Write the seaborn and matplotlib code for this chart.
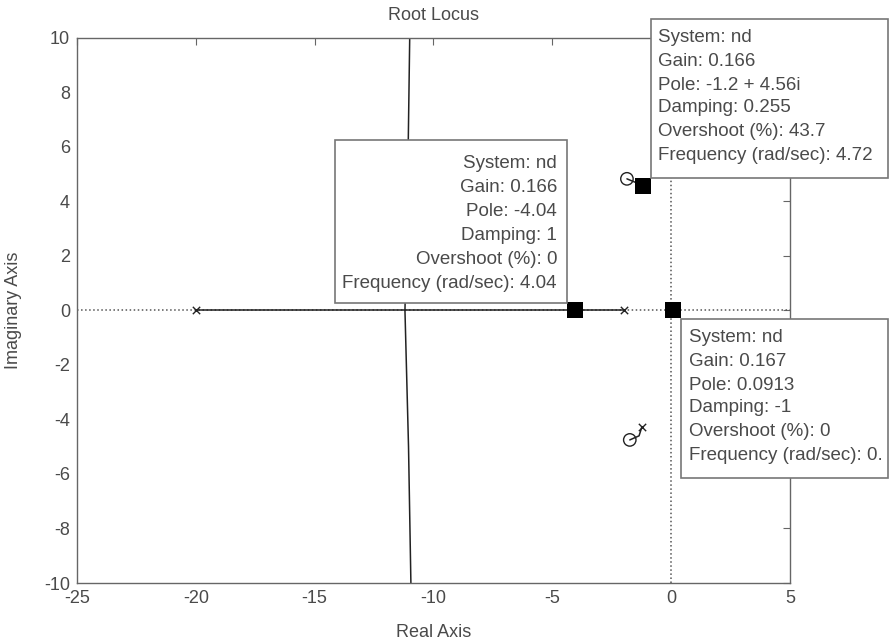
import numpy as np
import pandas as pd
import seaborn as sns
import matplotlib.pyplot as plt
from matplotlib.patches import Rectangle

# locus data
real_branch_re = [-20, -11.2, -2]
real_branch_im = [0, 0, 0]
up_branch_re = [-11.2, -11.08, -11.0]
up_branch_im = [0, 5, 10]
down_branch_re = [-11.2, -11.05, -10.95]
down_branch_im = [0, -5, -10]
cplx_up_re = [-1.2, -1.5, -1.86]
cplx_up_im = [4.5, 4.7, 4.83]
cplx_dn_re = [-1.23, -1.35, -1.74]
cplx_dn_im = [-4.27, -4.6, -4.75]

poles_re = [-20, -2, -1.2, -1.23]
poles_im = [0, 0, 4.5, -4.27]
zeros_re = [-1.86, -1.74]
zeros_im = [4.83, -4.75]

sel_re = [-4.04, 0.0913, -1.2]
sel_im = [0, 0, 4.56]

tip_left = ["System: nd", "Gain: 0.166", "Pole: -4.04", "Damping: 1",
            "Overshoot (%): 0", "Frequency (rad/sec): 4.04"]
tip_top = ["System: nd", "Gain: 0.166", "Pole: -1.2 + 4.56i", "Damping: 0.255",
           "Overshoot (%): 43.7", "Frequency (rad/sec): 4.72"]
tip_right = ["System: nd", "Gain: 0.167", "Pole: 0.0913", "Damping: -1",
             "Overshoot (%): 0", "Frequency (rad/sec): 0."]

sns.set_style("white")
plt.rcParams['font.family'] = ['Liberation Sans', 'DejaVu Sans']
plt.rcParams['axes.unicode_minus'] = False
txt_col = '#4a4a4a'
fs = 13

fig = plt.figure(figsize=(8.89, 6.42), dpi=100)
ax = fig.add_axes([0.0866, 0.0919, 0.802, 0.849])

# dotted axis lines
ax.axhline(0, color='#555555', ls=':', lw=1.1, zorder=1)
ax.axvline(0, color='#555555', ls=':', lw=1.1, zorder=1)

for xs, ys in [(real_branch_re, real_branch_im), (up_branch_re, up_branch_im),
               (down_branch_re, down_branch_im), (cplx_up_re, cplx_up_im),
               (cplx_dn_re, cplx_dn_im)]:
    d = pd.DataFrame({'re': xs, 'im': ys})
    sns.lineplot(data=d, x='re', y='im', sort=False, color='#222222', lw=1.1, ax=ax, zorder=2)

sns.scatterplot(x=poles_re, y=poles_im, marker='x', s=28, color='#222222', linewidth=1.0, ax=ax, zorder=3)
sns.scatterplot(x=zeros_re, y=zeros_im, marker='o', s=80, facecolor='none', edgecolor='#222222',
                linewidth=1.0, ax=ax, zorder=3)
sns.scatterplot(x=sel_re, y=sel_im, marker='s', s=135, color='black', linewidth=0, ax=ax, zorder=4)

ax.set_xlim(-25, 5)
ax.set_ylim(-10, 10)
ax.set_xticks(np.arange(-25, 6, 5))
ax.set_yticks(np.arange(-10, 11, 2))
ax.tick_params(direction='in', length=5, top=True, right=True, labelsize=fs,
               colors='#666666', labelcolor=txt_col, pad=5)
for s in ax.spines.values():
    s.set_color('#666666')
    s.set_linewidth(1.0)
ax.set_title("Root Locus", fontsize=fs, color=txt_col, pad=13)
ax.set_xlabel("Real Axis", fontsize=fs, color=txt_col, labelpad=12)
ax.set_ylabel("Imaginary Axis", fontsize=fs, color=txt_col, labelpad=16)

W, H = 889.0, 642.0


def data_tip(lines, x0, y0, x1, y1, tx, ys, ha):
    fig.patches.append(Rectangle((x0 / W, 1 - y1 / H), (x1 - x0) / W, (y1 - y0) / H,
                                 transform=fig.transFigure, facecolor='white',
                                 edgecolor='#777777', lw=1.2, zorder=5))
    for line, yy in zip(lines, ys):
        fig.text(tx / W, 1 - yy / H, line, ha=ha, va='center', fontsize=13.5,
                 color=txt_col, zorder=6)


data_tip(tip_left, 335, 140, 567, 303, 557, [163, 188, 212, 236, 259, 283], 'right')
data_tip(tip_top, 651, 19, 888, 178, 658, [38, 62, 85, 108, 132, 155], 'left')
data_tip(tip_right, 681, 319, 888, 478, 689, [338, 361, 385, 408, 432, 455], 'left')

fig.savefig("out.png", dpi=100)
